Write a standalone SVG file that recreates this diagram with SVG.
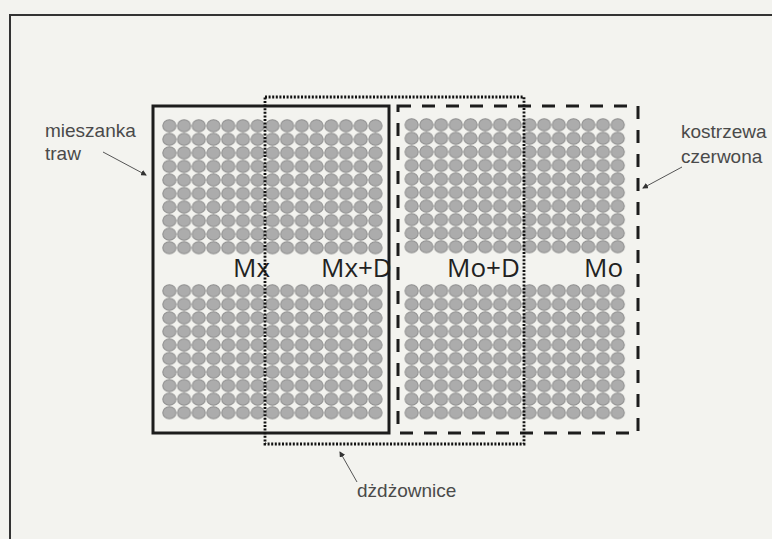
<svg xmlns="http://www.w3.org/2000/svg" width="772" height="539" viewBox="0 0 772 539">
<style>
.lbl{font-family:"Liberation Sans",Arial,sans-serif;font-size:19px;fill:#4a4a4a}
.big{font-family:"Open Sans","Noto Sans",sans-serif;font-size:26px;fill:#222}
.ptr{stroke:#555;stroke-width:1;fill:none}
</style>
<defs>
<pattern id="dots" patternUnits="userSpaceOnUse" width="14.72" height="13.55">
<ellipse cx="7.36" cy="6.78" rx="6.6" ry="6.1" fill="#acacac" stroke="#8e8e8e" stroke-width="1"/>
</pattern>
<marker id="ah" markerWidth="6" markerHeight="6" refX="5" refY="3" orient="auto" markerUnits="userSpaceOnUse">
<path d="M0,0 L6,3 L0,6 z" fill="#333"/>
</marker>
</defs>
<rect width="772" height="539" fill="#f3f3ef"/>
<path d="M10,560 L10,15 L790,15" fill="none" stroke="#333" stroke-width="2"/>
<g id="grid-mx-top" transform="translate(162,119)"><rect width="220.8" height="135.5" fill="url(#dots)"/></g>
<g id="grid-mx-bottom" transform="translate(162,284)"><rect width="220.8" height="135.5" fill="url(#dots)"/></g>
<g id="grid-mo-top" transform="translate(404.3,118)"><rect width="220.8" height="135.5" fill="url(#dots)"/></g>
<g id="grid-mo-bottom" transform="translate(404.3,284)"><rect width="220.8" height="135.5" fill="url(#dots)"/></g>
<g id="labels-plots">
<text class="big" x="233" y="277">Mx</text>
<text class="big" x="321" y="277">Mx+D</text>
<text class="big" x="447" y="277">Mo+D</text>
<text class="big" x="584" y="277">Mo</text>
</g>
<g id="mieszanka"><rect x="153" y="106" width="236" height="327" fill="none" stroke="#1c1c1c" stroke-width="3"/></g>
<g id="kostrzewa"><rect x="398" y="106" width="240" height="327" fill="none" stroke="#1c1c1c" stroke-width="3" stroke-dasharray="13 11"/></g>
<g id="dzdzownice"><rect x="265" y="97" width="259" height="347" fill="none" stroke="#111" stroke-width="2.8" stroke-dasharray="2 1.6"/></g>
<g id="label-mieszanka">
<text class="lbl" x="45" y="137">mieszanka</text>
<text class="lbl" x="45" y="160">traw</text>
</g>
<g id="label-kostrzewa">
<text class="lbl" x="681" y="138">kostrzewa</text>
<text class="lbl" x="681" y="163">czerwona</text>
</g>
<g id="label-dzdzownice">
<text class="lbl" x="357" y="497">dżdżownice</text>
</g>
<g id="connectors">
<line class="ptr" x1="103" y1="152" x2="146" y2="175" marker-end="url(#ah)"/>
<line class="ptr" x1="682" y1="167" x2="643" y2="188" marker-end="url(#ah)"/>
<line class="ptr" x1="357" y1="482" x2="340" y2="452" marker-end="url(#ah)"/>
</g>
</svg>
